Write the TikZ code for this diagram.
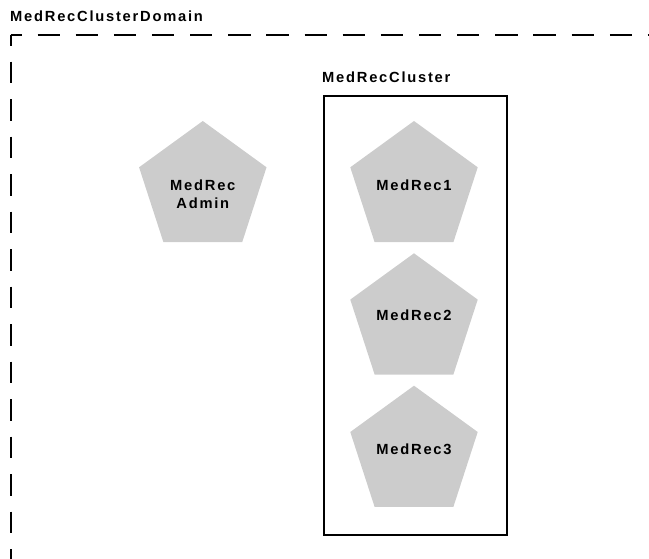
\documentclass[tikz,border=0pt]{standalone}
\usepackage{fontspec}
\usetikzlibrary{shapes.geometric}
\newfontfamily\lblfont[LetterSpace=12]{Liberation Sans}
\definecolor{pentgray}{HTML}{CCCCCC}
\newcommand{\pentlabel}[2]{\raisebox{#1}[0pt][0pt]{\begin{tabular}[t]{@{}c@{}}#2\end{tabular}}}
\tikzset{
  lbl/.style={font=\lblfont\bfseries\fontsize{14.7}{17.5}\selectfont, inner sep=0pt, text=black},
  pent/.style={regular polygon, regular polygon sides=5, minimum size=134pt, inner sep=0pt,
    fill=pentgray, draw=none, font=\lblfont\bfseries\fontsize{14.7}{17.5}\selectfont},
  hdash/.style={line width=2pt, dash pattern=on 22.3pt off 15.85pt, dash phase=11.15pt},
  vdash/.style={line width=2pt, dash pattern=on 21.8pt off 15.7pt, dash phase=10.9pt},
  clusterbox/.style={draw=black, line width=2pt}
}
\begin{document}
\begin{tikzpicture}[x=1pt,y=-1pt]
\useasboundingbox (0,0) rectangle (649,558);
\clip (0,0) rectangle (649,558);
% domain
\node[lbl, anchor=base west] (domlabel) at (10,21.5) {MedRecClusterDomain};
\coordinate (dc) at (10.5,35);
\coordinate (dr) at (680,35);
\coordinate (db) at (10.5,600);
\draw[hdash] (dc) -- (dr);
\draw[vdash] (dc) -- (db);
% cluster
\node[lbl, anchor=base west] (cllabel) at (322,82.5) {MedRecCluster};
\node[clusterbox, minimum width=183pt, minimum height=439pt, anchor=north west, inner sep=0pt] (cluster) at (322.5,95) {};
% servers
\node[pent] (admin) at (202.8,188) {\pentlabel{-2.7pt}{MedRec\\Admin}};
\node[pent] (m1) at (414,188) {\pentlabel{-2.7pt}{MedRec1}};
\node[pent] (m2) at (414,320.3) {\pentlabel{-0.4pt}{MedRec2}};
\node[pent] (m3) at (414,452.7) {\pentlabel{-1.3pt}{MedRec3}};
\end{tikzpicture}
\end{document}
